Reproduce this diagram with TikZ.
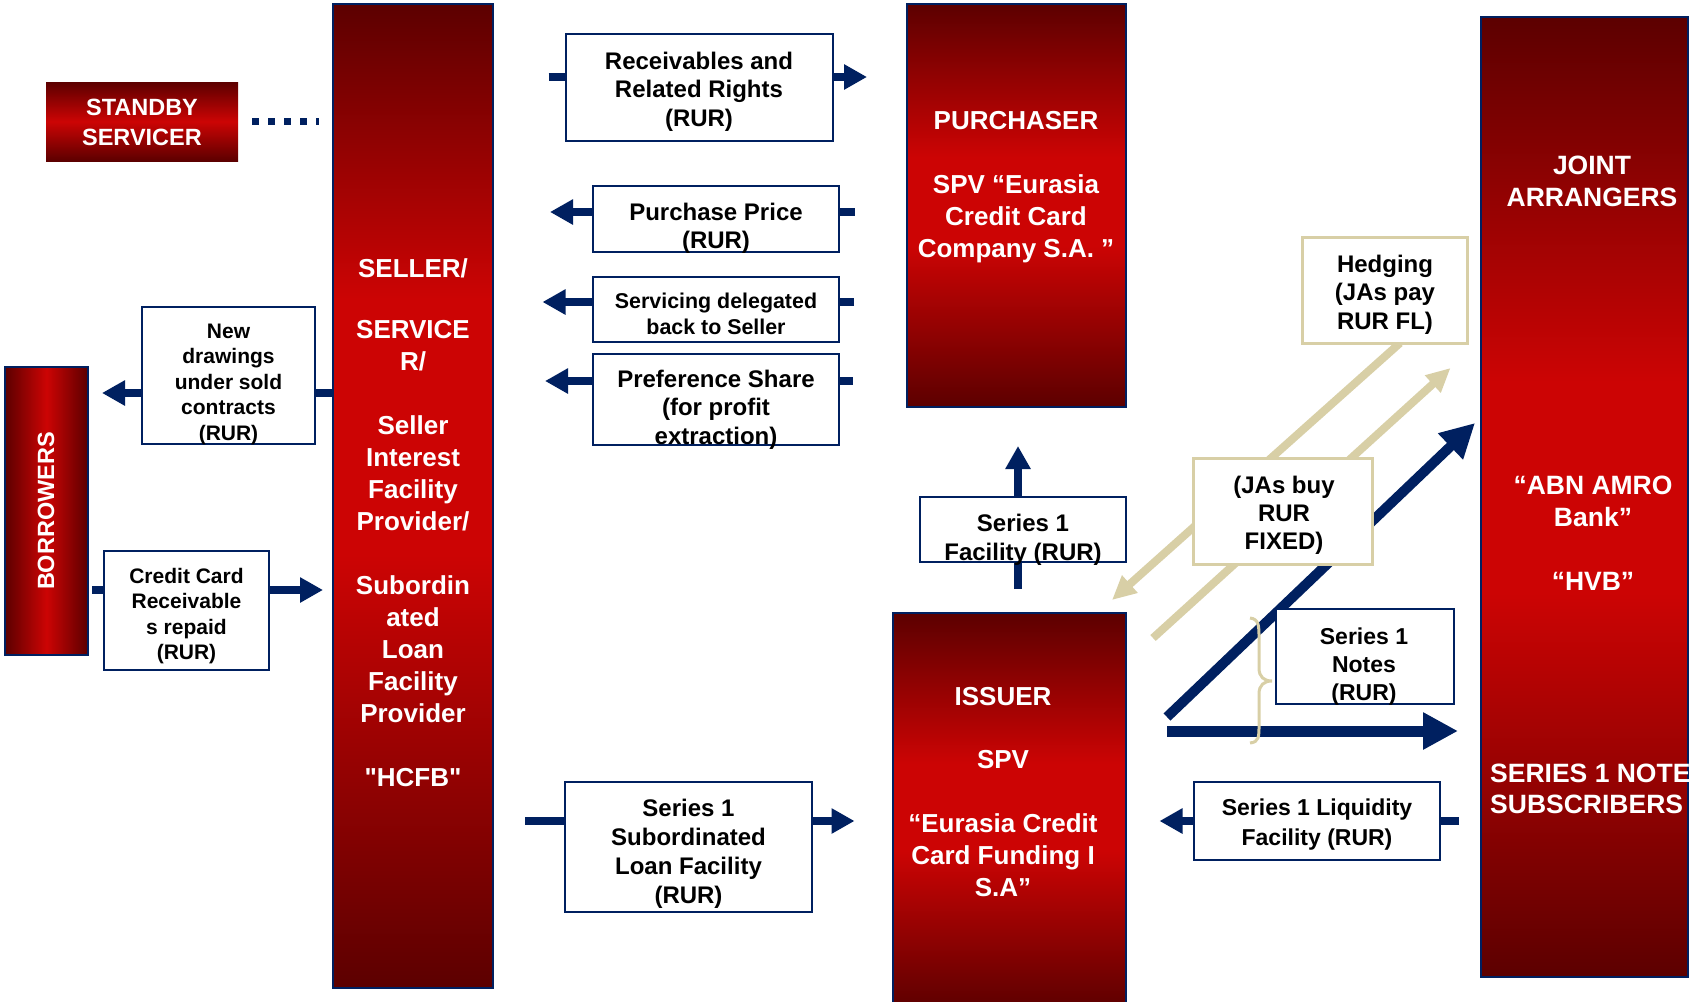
\documentclass[tikz,border=0pt]{standalone}
\usepackage{fontspec}
\setmainfont{Liberation Sans}[Ligatures=TeXOff]
\usetikzlibrary{arrows.meta}
\definecolor{navy}{RGB}{0,32,96}
\definecolor{tanline}{RGB}{216,207,166}
\definecolor{dkred}{RGB}{92,0,0}
\definecolor{brred}{RGB}{204,4,4}
\pgfdeclareverticalshading{redbar}{100bp}{color(0bp)=(dkred); color(25bp)=(dkred); color(45bp)=(brred); color(56bp)=(brred); color(75bp)=(dkred); color(100bp)=(dkred)}
\pgfdeclareverticalshading{sellerbar}{100bp}{color(0bp)=(dkred); color(25bp)=(dkred); color(47bp)=(brred); color(60bp)=(brred); color(75bp)=(dkred); color(100bp)=(dkred)}
\pgfdeclarelayer{bg}
\pgfsetlayers{bg,main}
\begin{document}
\begin{tikzpicture}[x=1pt,y=-1pt,
  redbox/.style={draw=navy, line width=2pt, inner sep=0pt, outer sep=0pt, shading=redbar},
  hredbox/.style={draw=navy, line width=2pt, inner sep=0pt, outer sep=0pt,
    left color=dkred, right color=dkred, middle color=brred},
  whitebox/.style={draw=navy, line width=2pt, fill=white, inner sep=0pt, outer sep=0pt},
  tanbox/.style={draw=tanline, line width=3pt, fill=white, inner sep=0pt, outer sep=0pt},
  wtxt/.style={text=white, font=\bfseries\fontsize{26}{32}\selectfont, align=center, anchor=base, inner sep=0pt},
  btxt/.style={text=black, font=\bfseries\fontsize{24}{28.5}\selectfont, align=center, anchor=base, inner sep=0pt},
  navyarrow/.style={draw=navy, line width=8pt, -{Triangle[length=23pt,width=24pt]}},
  bigarrow/.style={draw=navy, line width=11pt, -{Triangle[length=35pt,width=35pt]}},
  diagarrow/.style={draw=navy, line width=10pt, -{Triangle[length=34pt,width=34pt]}},
  tanarrow/.style={draw=tanline, line width=8pt, -{Triangle[length=24pt,width=22pt]}},
  dotline/.style={draw=navy, line width=7pt, dash pattern=on 7pt off 9pt}
]
\useasboundingbox (0,0) rectangle (1691,1001);

% ---------- red boxes ----------
\node[draw=none, inner sep=0pt, outer sep=0pt, top color=dkred, bottom color=dkred, middle color=brred,
      minimum width=192pt, minimum height=79pt] (standby) at (142,121.5) {};
\node[redbox, shading=sellerbar, minimum width=160pt, minimum height=984pt] (seller) at (413,496) {};
\node[hredbox, minimum width=83pt, minimum height=288pt] (borrowers) at (46.5,511) {};
\node[redbox, minimum width=219pt, minimum height=403pt] (purchaser) at (1016.5,205.5) {};
\node[redbox, minimum width=233pt, minimum height=397pt] (issuer) at (1009.5,811.5) {};
\node[redbox, minimum width=207pt, minimum height=960pt] (joint) at (1584.5,497) {};

% ---------- white boxes ----------
\node[whitebox, minimum width=267.5pt, minimum height=107pt] (recv) at (699.25,87.5) {};
\node[whitebox, minimum width=246pt, minimum height=66pt] (pp) at (716,219) {};
\node[whitebox, minimum width=246pt, minimum height=65pt] (sv) at (716,309.5) {};
\node[whitebox, minimum width=246pt, minimum height=91pt] (pref) at (716,399.5) {};
\node[whitebox, minimum width=173pt, minimum height=137pt] (nd) at (228.5,375.5) {};
\node[whitebox, minimum width=165pt, minimum height=119pt] (cc) at (186.5,610.5) {};
\node[whitebox, minimum width=206pt, minimum height=65pt] (s1f) at (1023,529.5) {};
\node[whitebox, minimum width=178pt, minimum height=95pt] (s1n) at (1364.85,656.5) {};
\node[whitebox, minimum width=247pt, minimum height=130pt] (subl) at (688.5,847) {};
\node[whitebox, minimum width=246pt, minimum height=78pt] (liq) at (1317,821) {};
\node[tanbox, minimum width=179pt, minimum height=106pt] (jas) at (1282.5,511) {};
\node[tanbox, minimum width=165pt, minimum height=106pt] (hedge) at (1385.2,290) {};

% ---------- free ends of connectors ----------
\coordinate (sbA) at (252,121);   \coordinate (sbB) at (319,121);
\coordinate (ndA) at (333,393);   \coordinate (ndB) at (102,393);
\coordinate (ccA) at (92,590);    \coordinate (ccB) at (323,590);
\coordinate (recvA) at (548.5,77); \coordinate (recvB) at (867,77);
\coordinate (ppA) at (854.5,212); \coordinate (ppB) at (550,212);
\coordinate (svA) at (854,302);   \coordinate (svB) at (542.5,302);
\coordinate (prefA) at (852.5,381); \coordinate (prefB) at (545,381);
\coordinate (s1fA) at (1018,589); \coordinate (s1fB) at (1018,446);
\coordinate (sublA) at (525,821); \coordinate (sublB) at (854.5,821);
\coordinate (liqA) at (1459,821); \coordinate (liqB) at (1159.5,821);
\coordinate (hzA) at (1167,731);  \coordinate (hzB) at (1458,731);
\coordinate (dgA) at (1167,717);  \coordinate (dgB) at (1475,423);
\coordinate (t1A) at (1400,343);  \coordinate (t1B) at (1112,600);
\coordinate (t2A) at (1153,638);  \coordinate (t2B) at (1450.5,368);

\begin{pgfonlayer}{bg}
\draw[dotline] (sbA) -- (sbB);
\draw[navyarrow] (ndA) -- (ndB);
\draw[navyarrow] (ccA) -- (ccB);
\draw[navyarrow] (recvA) -- (recvB);
\draw[navyarrow] (ppA) -- (ppB);
\draw[navyarrow] (svA) -- (svB);
\draw[navyarrow] (prefA) -- (prefB);
\draw[navyarrow] (s1fA) -- (s1fB);
\draw[navyarrow] (sublA) -- (sublB);
\draw[navyarrow] (liqA) -- (liqB);
\draw[tanarrow] (t1A) -- (t1B);
\draw[tanarrow] (t2A) -- (t2B);
\draw[diagarrow] (dgA) -- (dgB);
\draw[bigarrow] (hzA) -- (hzB);
\end{pgfonlayer}

% brace
\draw[tanline, line width=3pt] (1250,618) .. controls (1259,619) and (1259,626) .. (1259,638)
  -- (1259,668) .. controls (1259,677) and (1264,681) .. (1272,681)
  .. controls (1264,681) and (1259,685) .. (1259,694)
  -- (1259,725) .. controls (1259,737) and (1259,742) .. (1250,743);

% ---------- texts in red boxes (anchored at the baseline of the last line) ----------
\node[wtxt, font=\bfseries\fontsize{23.5}{29.3}\selectfont] (standbytxt) at (142,145) {STANDBY\\SERVICER};
\node[wtxt] (sellertxt) at (413,786) {SELLER/\\[29pt]SERVICE\\R/\\[32pt]Seller\\Interest\\Facility\\Provider/\\[32pt]Subordin\\ated\\Loan\\Facility\\Provider\\[32pt]"HCFB"};
\node[wtxt, anchor=center, rotate=90, font=\bfseries\fontsize{23.5}{28}\selectfont] (borrtxt) at (46,511) {BORROWERS};
\node[wtxt] (purchtxt) at (1016,257) {PURCHASER\\[32pt]SPV “Eurasia\\Credit Card\\Company S.A. ”};
\node[wtxt] (issuertxt) at (1003,896) {ISSUER\\[31pt]SPV\\[32pt]“Eurasia Credit\\Card Funding I\\S.A”};
\node[wtxt, font=\bfseries\fontsize{26.5}{32}\selectfont] (jointtxt) at (1592,206) {JOINT\\ARRANGERS};
\node[wtxt, font=\bfseries\fontsize{26.5}{32}\selectfont] (banktxt) at (1593,590) {“ABN AMRO\\Bank”\\[32pt]“HVB”};
\node[wtxt, font=\bfseries\fontsize{26.5}{31}\selectfont, align=left, anchor=base west] (subtxt) at (1490,813) {SERIES 1 NOTE\\SUBSCRIBERS};

% ---------- texts in white boxes ----------
\node[btxt] (recvtxt) at (699,126) {Receivables and\\Related Rights\\(RUR)};
\node[btxt, font=\bfseries\fontsize{24}{28}\selectfont] (pptxt) at (716,248) {Purchase Price\\(RUR)};
\node[btxt, font=\bfseries\fontsize{21.4}{26}\selectfont] (svtxt) at (716,334) {Servicing delegated\\back to Seller};
\node[btxt] (preftxt) at (716,444) {Preference Share\\(for profit\\extraction)};
\node[btxt, font=\bfseries\fontsize{21}{25.5}\selectfont] (ndtxt) at (228.5,440) {New\\drawings\\under sold\\contracts\\(RUR)};
\node[btxt, font=\bfseries\fontsize{21}{25.5}\selectfont] (cctxt) at (186.5,659.5) {Credit Card\\Receivable\\s repaid\\(RUR)};
\node[btxt, font=\bfseries\fontsize{24}{29}\selectfont] (s1ftxt) at (1023,560) {Series 1\\Facility (RUR)};
\node[btxt, font=\bfseries\fontsize{24}{28}\selectfont] (jastxt) at (1284,549) {(JAs buy\\RUR\\FIXED)};
\node[btxt] (hedgetxt) at (1385,329) {Hedging\\(JAs pay\\RUR FL)};
\node[btxt, font=\bfseries\fontsize{23}{28}\selectfont] (s1ntxt) at (1364,700) {Series 1\\Notes\\(RUR)};
\node[btxt, font=\bfseries\fontsize{24}{29}\selectfont] (subltxt) at (688.5,903) {Series 1\\Subordinated\\Loan Facility\\(RUR)};
\node[btxt, font=\bfseries\fontsize{23}{30}\selectfont] (liqtxt) at (1317,845) {Series 1 Liquidity\\Facility (RUR)};
\end{tikzpicture}
\end{document}
